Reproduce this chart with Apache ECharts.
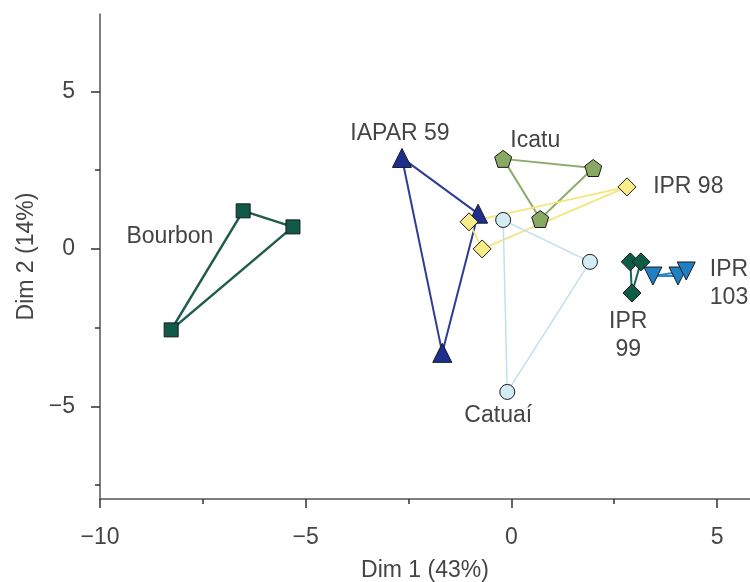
<!DOCTYPE html>
<html>
<head>
<meta charset="utf-8">
<script src="https://cdn.jsdelivr.net/npm/echarts@6/dist/echarts.min.js"></script>
<style>
  html, body { margin: 0; padding: 0; background: #fff; }
  #chart { width: 750px; height: 582px; }
</style>
</head>
<body>
<div id="chart"></div>
<script>
// cultivar scores on the first two dimensions
const bourbon = [[-6.52, 1.21], [-5.31, 0.70], [-8.27, -2.57]];
const iapar59 = [[-2.66, 2.89], [-0.81, 1.12], [-1.68, -3.30]];
const icatu = [[-0.20, 2.86], [1.99, 2.57], [0.70, 0.95]];
const ipr98 = [[2.81, 1.97], [-1.03, 0.86], [-0.71, 0.00]];
const catuai = [[-0.20, 0.92], [1.91, -0.41], [-0.10, -4.54]];
const ipr99 = [[2.89, -0.41], [3.15, -0.41], [2.93, -1.40]];
const ipr103 = [[3.44, -0.86], [4.05, -0.86], [4.25, -0.70]];

// label anchors (data units)
const labelSpots = [
  [-8.30, 0.38, 'Bourbon'],
  [-2.71, 3.65, 'IAPAR 59'],
  [0.58, 3.43, 'Icatu'],
  [4.30, 1.97, 'IPR 98'],
  [5.29, -1.11, 'IPR\n103'],
  [2.84, -2.76, 'IPR\n99'],
  [-0.32, -5.30, 'Catuaí']
];

const majorTicks = [-10, -5, 0, 5];
const xMinor = [-7.5, -2.5, 2.5];
const yMajor = [-5, 0, 5];
const yMinor = [-7.5, -2.5, 2.5, 7.5];

const pentagon = 'path://M0,-10 L9.51,-3.09 L5.88,8.09 L-5.88,8.09 L-9.51,-3.09 Z';

const groups = [
  { pts: bourbon, fill: '#0f5a48', line: '#1e5c4c', lw: 2.5, symbol: 'rect', size: 14 },
  { pts: iapar59, fill: '#1c2f8e', line: '#2d3c96', lw: 2, symbol: 'triangle', size: 19 },
  { pts: icatu, fill: '#88a963', line: '#8dac6c', lw: 2, symbol: pentagon, size: 17 },
  { pts: ipr98, fill: '#f8ed88', line: '#f3e77c', lw: 1.8, symbol: 'diamond', size: 18 },
  { pts: catuai, fill: '#d3ebf3', line: '#c0e1eb', lw: 1.5, symbol: 'circle', size: 15 },
  { pts: ipr99, fill: '#0e5b46', line: '#17664f', lw: 2, symbol: 'diamond', size: 18 },
  { pts: ipr103, fill: '#1f80c6', line: '#2a86c8', lw: 2, symbol: 'triangle', size: 18, rotate: 180 }
];

const fmt = (v) => (v < 0 ? '\u2212' + Math.abs(v) : String(v));
const textStyle = { fontFamily: 'Liberation Sans', fontSize: 23, color: '#444' };
const axisLine = { show: true, onZero: false, lineStyle: { color: '#555', width: 1.5 } };

const series = [];
groups.forEach((g) => {
  series.push({
    type: 'line',
    data: g.pts.concat([g.pts[0]]),
    symbol: 'none',
    silent: true,
    z: 1,
    lineStyle: { color: g.line, width: g.lw, opacity: 1 }
  });
});
groups.forEach((g) => {
  series.push({
    type: 'scatter',
    data: g.pts,
    symbol: g.symbol,
    symbolSize: g.size,
    symbolRotate: g.rotate || 0,
    z: 3,
    itemStyle: { color: g.fill, borderColor: '#1a1a1a', borderWidth: 1, opacity: 1 }
  });
});
series.push({
  type: 'scatter',
  data: labelSpots,
  symbolSize: 0,
  z: 4,
  itemStyle: { opacity: 1 },
  label: {
    show: true,
    position: 'inside',
    formatter: (p) => p.data[2],
    fontFamily: 'Liberation Sans',
    fontSize: 23,
    lineHeight: 28,
    color: '#444',
    align: 'center'
  }
});

const chart = echarts.init(document.getElementById('chart'), null, { renderer: 'canvas' });
chart.setOption({
  animation: false,
  backgroundColor: '#fff',
  grid: { left: 100, right: 0, top: 14, bottom: 83, containLabel: false, outerBoundsMode: 'none' },
  xAxis: [
    {
      type: 'value', min: -10, max: 5.8,
      axisLine: axisLine,
      axisTick: { show: true, customValues: majorTicks, length: 9, lineStyle: { color: '#333', width: 1.5 } },
      axisLabel: Object.assign({ customValues: majorTicks, margin: 27, formatter: fmt }, textStyle),
      splitLine: { show: false },
      name: 'Dim 1 (43%)', nameLocation: 'middle', nameGap: 60,
      nameTextStyle: textStyle
    },
    {
      type: 'value', min: -10, max: 5.8, position: 'bottom',
      axisLine: { show: false, onZero: false },
      axisTick: { show: true, customValues: xMinor, length: 5, lineStyle: { color: '#333', width: 1.5 } },
      axisLabel: { show: false },
      splitLine: { show: false }
    }
  ],
  yAxis: [
    {
      type: 'value', min: -7.94, max: 7.46,
      axisLine: axisLine,
      axisTick: { show: true, customValues: yMajor, length: 9, lineStyle: { color: '#333', width: 1.5 } },
      axisLabel: Object.assign({ customValues: yMajor, margin: 25, formatter: fmt }, textStyle),
      splitLine: { show: false },
      name: 'Dim 2 (14%)', nameLocation: 'middle', nameGap: 62,
      nameTextStyle: textStyle
    },
    {
      type: 'value', min: -7.94, max: 7.46, position: 'left',
      axisLine: { show: false, onZero: false },
      axisTick: { show: true, customValues: yMinor, length: 5, lineStyle: { color: '#333', width: 1.5 } },
      axisLabel: { show: false },
      splitLine: { show: false }
    }
  ],
  series: series
});
</script>
</body>
</html>
